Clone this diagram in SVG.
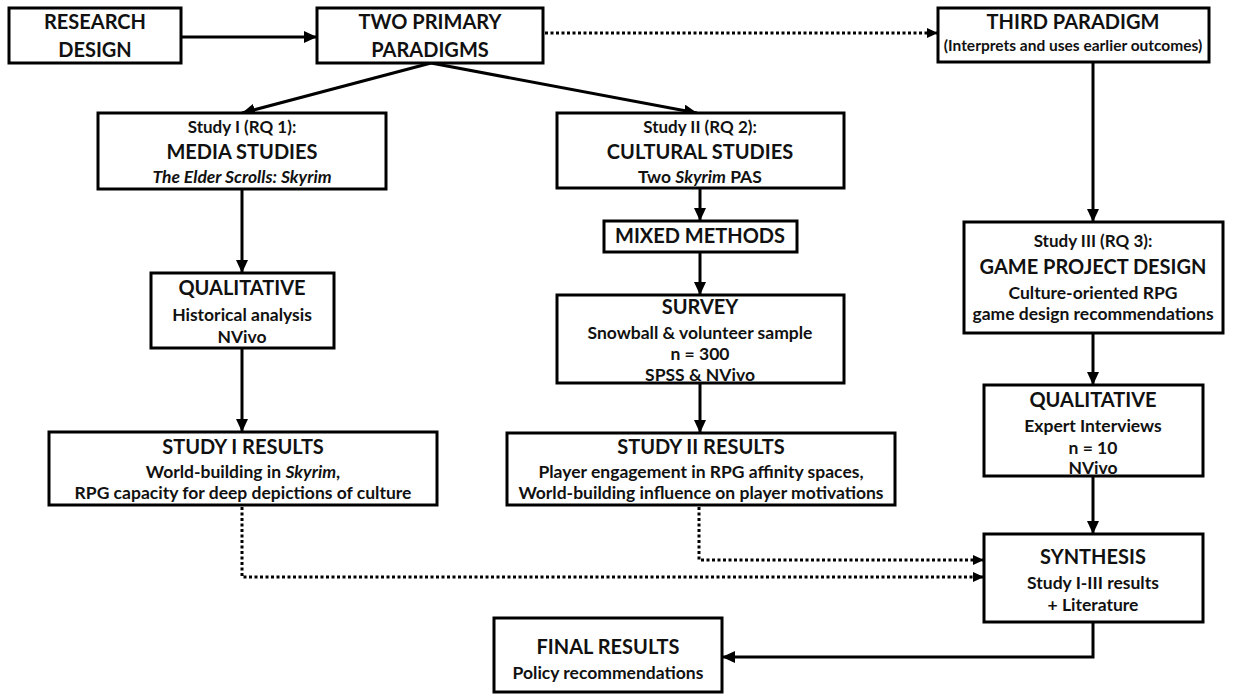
<svg xmlns="http://www.w3.org/2000/svg" width="1246" height="694" viewBox="0 0 1246 694">
<style>
.box{fill:#fff;stroke:#000;stroke-width:3}
.ln{fill:none;stroke:#000;stroke-width:3}
.dot{fill:none;stroke:#000;stroke-width:3;stroke-dasharray:3 2.5}
text{font-family:Lato,"Liberation Sans",sans-serif;font-weight:bold;fill:#111;text-anchor:middle}
.h{font-size:20px}
.b{font-size:17.5px}
.s{font-size:17px}
.p{font-size:15.5px}
.i{font-style:italic}
</style>
<defs>
<marker id="ah" markerUnits="userSpaceOnUse" markerWidth="13" markerHeight="12" refX="13" refY="6" orient="auto">
<path d="M0,0 L13,6 L0,12 z" fill="#000"/>
</marker>
<marker id="ahs" markerUnits="userSpaceOnUse" markerWidth="11" markerHeight="10" refX="11" refY="5" orient="auto">
<path d="M0,0 L11,5 L0,10 z" fill="#000"/>
</marker>
</defs>
<rect width="1246" height="694" fill="#fff"/>
<g id="connectors">
<line class="ln" x1="181" y1="37" x2="317" y2="37" marker-end="url(#ah)"/>
<line class="dot" x1="545" y1="33" x2="938" y2="33" marker-end="url(#ahs)"/>
<line class="ln" x1="431" y1="63" x2="242" y2="113" marker-end="url(#ah)"/>
<line class="ln" x1="431" y1="63" x2="697" y2="113" marker-end="url(#ah)"/>
<line class="ln" x1="1093" y1="62" x2="1093" y2="222" marker-end="url(#ah)"/>
<line class="ln" x1="242" y1="189" x2="242" y2="273" marker-end="url(#ah)"/>
<line class="ln" x1="242" y1="348" x2="242" y2="432" marker-end="url(#ah)"/>
<line class="ln" x1="700" y1="188" x2="700" y2="221" marker-end="url(#ah)"/>
<line class="ln" x1="700" y1="252" x2="700" y2="295" marker-end="url(#ah)"/>
<line class="ln" x1="700" y1="383" x2="700" y2="433" marker-end="url(#ah)"/>
<line class="ln" x1="1093" y1="333" x2="1093" y2="385" marker-end="url(#ah)"/>
<line class="ln" x1="1093" y1="476" x2="1093" y2="534" marker-end="url(#ah)"/>
<polyline class="dot" points="242,507 242,577 984,577" marker-end="url(#ahs)"/>
<polyline class="dot" points="699,507 699,560 984,560" marker-end="url(#ahs)"/>
<polyline class="ln" points="1093,622 1093,657 722,657" marker-end="url(#ah)"/>
</g>
<g id="research">
<rect class="box" x="9" y="8" width="172" height="55"/>
<text class="h" x="95" y="29">RESEARCH</text>
<text class="h" x="95" y="57">DESIGN</text>
</g>
<g id="two-paradigms">
<rect class="box" x="317" y="8" width="226" height="55"/>
<text class="h" x="430" y="29">TWO PRIMARY</text>
<text class="h" x="430" y="57">PARADIGMS</text>
</g>
<g id="third-paradigm">
<rect class="box" x="938" y="8" width="271" height="54"/>
<text class="h" x="1073" y="29">THIRD PARADIGM</text>
<text class="p" x="1073" y="51">(Interprets and uses earlier outcomes)</text>
</g>
<g id="study1">
<rect class="box" x="98" y="113" width="288" height="76"/>
<text class="s" x="242" y="133">Study I (RQ 1):</text>
<text class="h" x="242" y="159">MEDIA STUDIES</text>
<text class="b i" x="242" y="183">The Elder Scrolls: Skyrim</text>
</g>
<g id="study2">
<rect class="box" x="557" y="113" width="287" height="75"/>
<text class="s" x="700" y="133">Study II (RQ 2):</text>
<text class="h" x="700" y="159">CULTURAL STUDIES</text>
<text class="b" x="700" y="183">Two <tspan class="i">Skyrim</tspan> PAS</text>
</g>
<g id="mixed">
<rect class="box" x="604" y="221" width="193" height="31"/>
<text class="h" x="700" y="243">MIXED METHODS</text>
</g>
<g id="survey">
<rect class="box" x="557" y="295" width="287" height="88"/>
<text class="h" x="700" y="314">SURVEY</text>
<text class="b" x="700" y="338.5">Snowball &amp; volunteer sample</text>
<text class="b" x="700" y="359.5">n = 300</text>
<text class="b" x="700" y="381">SPSS &amp; NVivo</text>
</g>
<g id="qual1">
<rect class="box" x="151" y="273" width="183" height="75"/>
<text class="h" x="242" y="295">QUALITATIVE</text>
<text class="b" x="242" y="320.5">Historical analysis</text>
<text class="b" x="242" y="343">NVivo</text>
</g>
<g id="results1">
<rect class="box" x="49" y="432" width="388" height="73"/>
<text class="h" x="243" y="454">STUDY I RESULTS</text>
<text class="b" x="243" y="477.5">World-building in <tspan class="i">Skyrim</tspan>,</text>
<text class="b" x="243" y="499">RPG capacity for deep depictions of culture</text>
</g>
<g id="results2">
<rect class="box" x="507" y="433" width="388" height="72"/>
<text class="h" x="701" y="454">STUDY II RESULTS</text>
<text class="b" x="701" y="477.5">Player engagement in RPG affinity spaces,</text>
<text class="b" x="701" y="499">World-building influence on player motivations</text>
</g>
<g id="study3">
<rect class="box" x="964" y="222" width="259" height="111"/>
<text class="s" x="1093" y="247">Study III (RQ 3):</text>
<text class="h" x="1093" y="274">GAME PROJECT DESIGN</text>
<text class="b" x="1093" y="298.5">Culture-oriented RPG</text>
<text class="b" x="1093" y="319.5">game design recommendations</text>
</g>
<g id="qual3">
<rect class="box" x="984" y="385" width="219" height="91"/>
<text class="h" x="1093" y="407">QUALITATIVE</text>
<text class="b" x="1093" y="431.5">Expert Interviews</text>
<text class="b" x="1093" y="453.5">n = 10</text>
<text class="b" x="1093" y="474">NVivo</text>
</g>
<g id="synthesis">
<rect class="box" x="984" y="534" width="219" height="88"/>
<text class="h" x="1093" y="564">SYNTHESIS</text>
<text class="b" x="1093" y="588.5">Study I-III results</text>
<text class="b" x="1093" y="610.5">+ Literature</text>
</g>
<g id="final">
<rect class="box" x="494" y="618" width="228" height="74"/>
<text class="h" x="608" y="654">FINAL RESULTS</text>
<text class="b" x="608" y="678.5">Policy recommendations</text>
</g>
</svg>
